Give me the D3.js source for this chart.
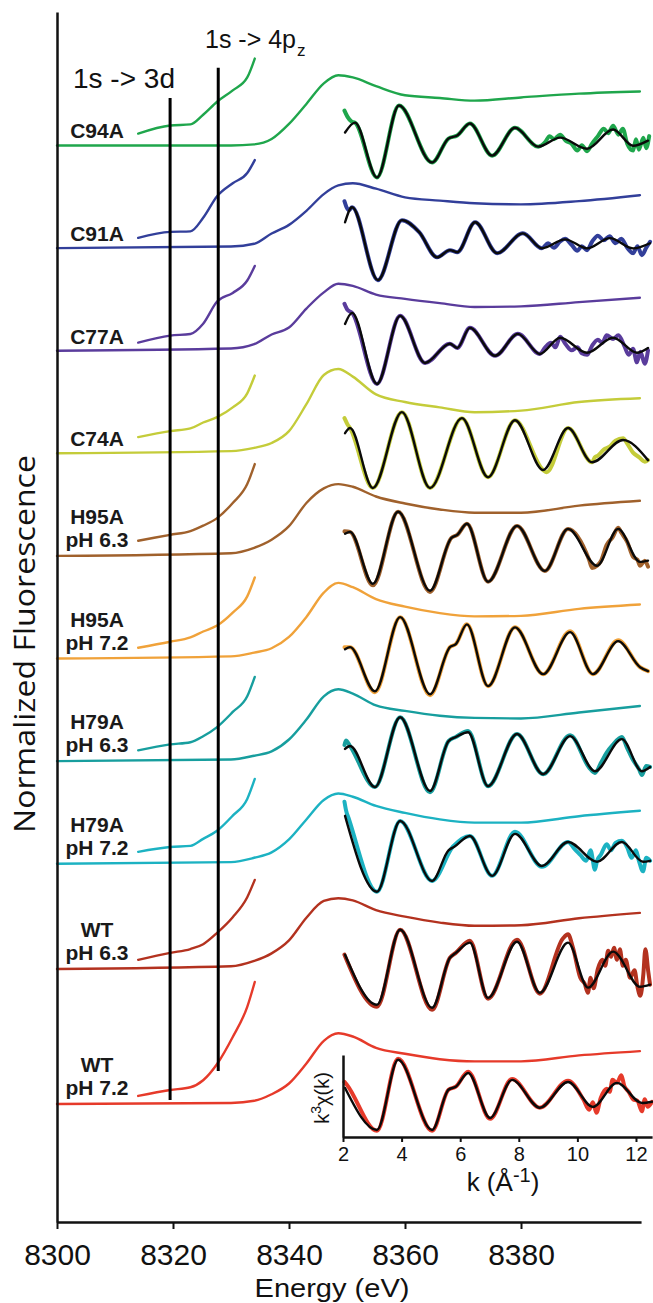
<!DOCTYPE html>
<html><head><meta charset="utf-8">
<script src="https://cdn.jsdelivr.net/npm/d3@7"></script>
<style>html,body{margin:0;padding:0;background:#fff;}svg{display:block;}</style>
</head><body>
<svg id="chart" width="653" height="1303"></svg>
<script>
// ---------------- data ----------------
const samples = ["C94A","C91A","C77A","C74A","H95A pH 6.3","H95A pH 7.2","H79A pH 6.3","H79A pH 7.2","WT pH 6.3","WT pH 7.2"];
const colors = ["#1fa64c","#323f9a","#5a3c9c","#c4cc3a","#a0612c","#f0a23a","#179e9e","#1cb2c2","#b3321f","#e63a2a"];

const energyTicks = [8300, 8320, 8340, 8360, 8380];
const kTicks = [2, 4, 6, 8, 10, 12];

// XANES (normalized fluorescence) on a common energy grid
const energyGrid = [8300, 8330, 8334, 8337, 8340, 8343, 8346, 8348.5, 8351, 8355, 8360, 8366, 8372, 8380, 8390, 8400.5];
const xanesC94A  = [0, 0,    0.02, 0.12, 0.40, 0.77, 1.15, 1.30, 1.26, 1.10, 0.93, 0.88, 0.83, 0.89, 0.96, 1.00];
const xanesC91A  = [0, 0.03, 0.08, 0.27, 0.43, 0.69, 1.00, 1.16, 1.20, 1.10, 0.94, 0.88, 0.83, 0.81, 0.87, 0.98];
const xanesC77A  = [0, 0.04, 0.12, 0.30, 0.43, 0.78, 1.08, 1.24, 1.20, 1.04, 0.96, 0.88, 0.81, 0.82, 0.90, 0.98];
const xanesC74A  = [0, 0.04, 0.10, 0.19, 0.41, 0.91, 1.45, 1.56, 1.42, 1.09, 0.95, 0.85, 0.76, 0.79, 0.95, 1.02];
const xanesH95A63 = [0, 0.05, 0.15, 0.30, 0.55, 0.98, 1.25, 1.33, 1.28, 1.10, 0.97, 0.86, 0.80, 0.80, 0.93, 1.02];
const xanesH95A72 = [0, 0.04, 0.11, 0.19, 0.40, 0.77, 1.22, 1.40, 1.32, 1.10, 0.96, 0.84, 0.78, 0.79, 0.92, 1.00];
const xanesH79A63 = [0, 0.03, 0.10, 0.18, 0.40, 0.77, 1.20, 1.33, 1.25, 1.03, 0.93, 0.84, 0.80, 0.79, 0.90, 1.02];
const xanesH79A72 = [0, 0.03, 0.11, 0.21, 0.45, 0.82, 1.18, 1.30, 1.24, 1.07, 0.94, 0.82, 0.76, 0.76, 0.88, 0.98];
const xanesWT63  = [0, 0.05, 0.15, 0.29, 0.53, 0.95, 1.26, 1.31, 1.27, 1.09, 0.97, 0.86, 0.80, 0.81, 0.94, 1.04];
const xanesWT72  = [0, 0.02, 0.06, 0.18, 0.38, 0.75, 1.17, 1.31, 1.25, 1.04, 0.93, 0.83, 0.79, 0.79, 0.90, 0.98];

// expanded pre-edge region
const preEdgeEnergy = [8314, 8319.5, 8323, 8325.2, 8327.6, 8330.3, 8332.8, 8334.1];
const preC94A  = [0.22, 0.37, 0.39, 0.57, 0.81, 1.02, 1.26, 1.61];
const preC91A  = [0.19, 0.30, 0.31, 0.56, 0.96, 1.20, 1.39, 1.63];
const preC77A  = [0.15, 0.28, 0.31, 0.50, 0.91, 1.07, 1.30, 1.57];
const preC74A  = [0.30, 0.41, 0.46, 0.57, 0.67, 0.85, 1.11, 1.44];
const preH95A63 = [0.28, 0.39, 0.46, 0.56, 0.70, 0.98, 1.33, 1.70];
const preH95A72 = [0.20, 0.31, 0.39, 0.50, 0.61, 0.85, 1.15, 1.50];
const preH79A63 = [0.20, 0.31, 0.35, 0.46, 0.63, 0.91, 1.20, 1.56];
const preH79A72 = [0.22, 0.31, 0.33, 0.46, 0.61, 0.89, 1.20, 1.57];
const preWT63  = [0.17, 0.30, 0.37, 0.46, 0.67, 0.96, 1.33, 1.65];
const preWT72  = [0.15, 0.26, 0.31, 0.44, 0.74, 1.24, 1.80, 2.26];

// EXAFS k^3 chi(k): fits [k, value]
const fitC94A = [[2.07,2.7],[2.41,6],[3.16,-12.3],[3.91,11.7],[5.04,-7.3],[5.6,0.7],[5.9,1.7],[6.33,5.7],[7.09,-5],[7.87,4.3],[8.66,-2],[9.41,1],[10.33,-2.7],[11.22,3.7],[11.9,-1.7],[12.41,0]];
const fitC91A = [[2.07,7],[2.31,12],[3.19,-12.3],[4.01,7.7],[4.6,3.7],[5.21,-4.7],[5.65,-2.3],[5.9,-3],[6.51,7],[7.26,-3.3],[8.14,3.3],[8.79,-1.7],[9.58,1.3],[10.33,-1.7],[11.11,1.7],[11.9,-1.7],[12.48,0]];
const fitC77A = [[2.07,7.3],[2.31,11],[3.16,-12.7],[3.95,10],[4.8,-5.7],[5.65,0.7],[5.9,-0.7],[6.33,6],[7.19,-3.3],[7.97,4],[8.72,-2.7],[9.41,2.7],[10.33,-2.3],[11.22,2.7],[12.03,-2.3],[12.41,-0.7]];
const fitC74A = [[2.07,6],[2.24,7.7],[3.02,-12.3],[4.01,13],[4.97,-12.3],[6.06,11],[6.95,-8.7],[7.87,10.3],[8.83,-6.3],[9.68,7.7],[10.5,-3.7],[11.56,3.7],[12.41,-3]];
const fitH95A63 = [[2.07,4.7],[2.24,5.3],[3.02,-12],[3.88,12],[4.97,-14.3],[5.7,3.3],[5.9,4.3],[6.23,8],[6.95,-11.3],[7.94,7.3],[8.89,-7.7],[9.68,6.3],[10.67,-6],[11.39,6.3],[12.14,-4.7],[12.41,-4.3]];
const fitH95A72 = [[2.07,2],[2.24,2.7],[3.09,-12],[3.95,12.7],[4.97,-13],[5.65,2.7],[5.85,3.7],[6.23,10.3],[6.95,-10.3],[7.87,9.3],[8.83,-6.3],[9.75,7.7],[10.53,-6.3],[11.39,4.7],[12.14,-4],[12.41,-5.3]];
const fitH79A63 = [[2.07,1.7],[2.24,2.7],[3.09,-11],[3.95,12.3],[4.97,-12.3],[5.6,4.3],[5.85,5.7],[6.27,7.3],[6.95,-10.7],[7.94,6.7],[8.83,-6.7],[9.75,6],[10.6,-5.7],[11.52,5],[12.2,-5.7],[12.48,-4.3]];
const fitH79A72 = [[2.07,12],[3.16,-13.3],[3.95,10.3],[5.04,-9.7],[5.6,0.5],[5.8,1.7],[6.33,5.3],[7.09,-8],[7.87,6],[8.79,-4.7],[9.68,3.3],[10.67,-3.3],[11.52,3.3],[12.24,-3.3],[12.48,-3]];
const fitWT63 = [[2.07,3.7],[3.16,-13],[3.95,12],[5.04,-14],[5.65,2.7],[5.85,4.3],[6.33,7.7],[6.95,-10.7],[7.94,8],[8.72,-9],[9.68,7.7],[10.36,-7.3],[11.22,4.7],[12.14,-7],[12.48,-6.3]];
const fitWT72 = [[2.07,2.3],[3.16,-11.7],[3.88,11.7],[5.04,-11.7],[5.6,1.7],[5.85,2.7],[6.27,7.3],[7.02,-7.7],[7.77,5],[8.72,-4.3],[9.68,4.3],[10.53,-4],[11.35,4],[12.2,-2.7],[12.55,-2.3]];

// EXAFS measured data [k, value]
const dataC94A = [[2.05,10],[2.15,8],[2.3,6.3],[2.41,6],[3.16,-12.3],[3.91,11.7],[5.04,-7.3],[5.6,0.7],[5.9,1.7],[6.33,5.7],[7.09,-5],[7.87,4.3],[8.66,-2],[8.9,-0.5],[9.05,1.5],[9.2,0.5],[9.41,2],[9.6,0],[9.8,-1],[10.0,-3.3],[10.15,-1.5],[10.33,-3.5],[10.5,-1],[10.7,1.5],[10.9,4],[11.05,2.5],[11.22,5],[11.4,2],[11.55,4],[11.7,-1],[11.9,-3.3],[12.0,0.5],[12.1,-3],[12.25,1],[12.35,-2.5],[12.45,1.5]];
const dataC91A = [[2.05,14],[2.12,12],[2.2,11],[2.31,12],[3.19,-12.3],[4.01,7.7],[4.6,3.7],[5.21,-4.7],[5.65,-2.3],[5.9,-3],[6.51,7],[7.26,-3.3],[8.14,3.3],[8.79,-1.7],[9.0,0],[9.2,-1.5],[9.4,0.5],[9.58,1.5],[9.8,-0.5],[10.0,-2.5],[10.15,-1],[10.33,-2.3],[10.5,0.5],[10.7,2.5],[10.9,1],[11.1,2.3],[11.3,0],[11.5,1.5],[11.7,-1.5],[11.9,-3.3],[12.05,-1],[12.2,-4],[12.35,-1.5],[12.48,0.5]];
const dataC77A = [[2.05,14],[2.15,12],[2.31,11],[3.16,-12.7],[3.95,10],[4.8,-5.7],[5.65,0.7],[5.9,-0.7],[6.33,6],[7.19,-3.3],[7.97,4],[8.72,-2.7],[8.9,-0.5],[9.1,1],[9.25,-0.5],[9.41,3],[9.6,0.5],[9.8,-1.5],[10.0,-0.5],[10.15,-2.5],[10.33,-3],[10.5,0],[10.7,2],[10.85,1],[11.0,3.5],[11.22,2.3],[11.4,3.5],[11.6,0],[11.75,-3],[11.9,-1],[12.03,-5.5],[12.15,-2],[12.3,-6],[12.41,-1.5]];
const dataC74A = [[2.05,11],[2.15,9],[2.24,7.7],[3.02,-12.3],[4.01,13],[4.97,-12.3],[6.06,11],[6.95,-8.7],[7.87,10.3],[8.83,-6.3],[8.95,-7],[9.68,7.7],[10.5,-3.7],[10.6,-2],[10.7,-1.5],[10.9,0.5],[11.1,1.5],[11.3,3.5],[11.56,4.3],[11.7,2.5],[11.9,-0.5],[12.1,-2],[12.3,-3.5],[12.41,-3]];
const dataH95A63 = [[2.05,5.5],[2.24,5.3],[3.02,-12.5],[3.88,12],[4.97,-14.7],[5.7,3.3],[5.9,4.3],[6.23,8],[6.95,-11.3],[7.94,7.3],[8.89,-7.7],[9.68,6.3],[10.4,-4],[10.5,-6.7],[10.67,-6],[10.8,-4.5],[11.0,1],[11.2,3.5],[11.39,6.7],[11.5,5],[11.7,2],[11.9,-3],[12.05,-4],[12.14,-6],[12.3,-4.3],[12.41,-6.3]];
const dataH95A72 = [[2.05,2.7],[2.24,2.7],[3.09,-12.3],[3.95,12.7],[4.97,-13.3],[5.65,2.7],[5.85,3.7],[6.23,10.3],[6.95,-10.3],[7.87,9.3],[8.83,-6.3],[9.75,8],[10.53,-6.3],[11.39,5],[12.14,-4],[12.41,-5.3]];
const dataH79A63 = [[2.05,3],[2.1,4.5],[2.24,2.7],[3.09,-11],[3.95,12.3],[4.97,-12.7],[5.6,4.3],[5.85,5.7],[6.27,7.7],[6.95,-10.7],[7.94,6.7],[8.83,-6.7],[9.75,6.3],[10.4,-4.5],[10.6,-6.3],[10.8,-3],[11.0,0.5],[11.2,3],[11.52,5.7],[11.7,2],[11.9,-2],[12.1,-5],[12.2,-7],[12.35,-4],[12.48,-4.3]];
const dataH79A72 = [[2.05,16.7],[2.1,14],[2.2,11],[3.16,-13.3],[3.95,10.3],[5.04,-9.7],[5.75,1.7],[6.33,5.3],[7.09,-8],[7.87,6.7],[8.79,-5],[9.68,3.3],[9.9,1],[10.1,-1],[10.3,-3],[10.45,0.5],[10.6,-6],[10.67,-3],[10.8,-1],[11.0,2.5],[11.15,0.5],[11.3,3],[11.52,3.7],[11.7,1.5],[11.85,-2],[12.0,0.5],[12.1,-3],[12.24,-6.5],[12.35,-2],[12.48,-3]];
const dataWT63 = [[2.05,3.7],[3.16,-13.7],[3.95,12],[5.04,-14.7],[5.65,2.7],[5.85,4.3],[6.33,8.3],[6.95,-11],[7.94,8.7],[8.72,-9.3],[9.5,9],[9.68,10.5],[9.85,6],[10.1,-4],[10.25,-6],[10.36,-9],[10.45,-4],[10.55,-7.5],[10.7,-1],[10.85,2],[10.95,0],[11.05,5],[11.15,3],[11.25,6],[11.35,2],[11.45,5.5],[11.55,0],[11.65,2],[11.8,-4],[11.95,-1.5],[12.05,-7],[12.15,-10],[12.25,-3],[12.32,5.5],[12.42,-2],[12.48,-6.3]];
const dataWT72 = [[2.05,4.3],[2.12,3.5],[3.16,-12],[3.88,12],[5.04,-12],[5.6,1.7],[5.85,2.7],[6.27,7.7],[7.02,-8],[7.77,5.3],[8.72,-4.3],[9.68,4.7],[10.2,-1.5],[10.4,-5],[10.53,-2.5],[10.65,-6],[10.8,-1],[11.0,2],[11.1,1],[11.2,5],[11.35,4],[11.5,6.5],[11.6,3],[11.75,1],[11.9,-1.5],[12.05,-2],[12.2,-5.5],[12.3,-1.5],[12.4,-4],[12.55,-2.3]];

const xanesSeries = [xanesC94A,xanesC91A,xanesC77A,xanesC74A,xanesH95A63,xanesH95A72,xanesH79A63,xanesH79A72,xanesWT63,xanesWT72];
const preSeries = [preC94A,preC91A,preC77A,preC74A,preH95A63,preH95A72,preH79A63,preH79A72,preWT63,preWT72];
const fitSeries = [fitC94A,fitC91A,fitC77A,fitC74A,fitH95A63,fitH95A72,fitH79A63,fitH79A72,fitWT63,fitWT72];
const dataSeries = [dataC94A,dataC91A,dataC77A,dataC74A,dataH95A63,dataH95A72,dataH79A63,dataH79A72,dataWT63,dataWT72];

// ---------------- layout ----------------
const stackOffset = [17.75, 15.85, 13.95, 12.05, 10.15, 8.25, 6.35, 4.45, 2.5, 0];
const exafsLift  = [0.09, 0.09, 0.09, 0.04, 0.15, 0.06, 0.13, 0.22, 0.06, 0.17];
const transitions = [
  {E: 8319.5, top: 18.63, bottom: 0.074},
  {E: 8327.8, top: 19.19, bottom: 0.61}
];

const svg = d3.select("#chart");
svg.append("rect").attr("width",653).attr("height",1303).attr("fill","#fff");

const x = d3.scaleLinear().domain([8300, 8400.7]).range([57, 641.06]);
const y = d3.scaleLinear().domain([-2.222, 20.222]).range([1224, 12]);
const kx = d3.scaleLinear().domain([2, 12.55]).range([343, 652.1]);

const curves = svg.append("g").attr("fill","none").attr("stroke-linejoin","round").attr("stroke-linecap","round");

samples.forEach((name, i) => {
  const off = stackOffset[i];
  const col = colors[i];
  const line = d3.line().x(d => x(d[0])).y(d => y(off + d[1])).curve(d3.curveMonotoneX);
  curves.append("path")
    .attr("d", line(energyGrid.map((e, j) => [e, xanesSeries[i][j]])))
    .attr("stroke", col).attr("stroke-width", 2.4);
  curves.append("path")
    .attr("d", line(preEdgeEnergy.map((e, j) => [e, preSeries[i][j]])))
    .attr("stroke", col).attr("stroke-width", 2.4);

  const yc = y(off + exafsLift[i]);
  const c = d3.scaleLinear().domain([-10, 10]).range([yc + 30, yc - 30]);
  const ex = d3.line().x(d => kx(d[0])).y(d => c(d[1])).curve(d3.curveMonotoneX);
  curves.append("path").attr("d", ex(dataSeries[i])).attr("stroke", col).attr("stroke-width", 4);
  curves.append("path").attr("d", ex(fitSeries[i])).attr("stroke", "#0a0a0a").attr("stroke-width", 2.4);

  // label
  const parts = name.split(" pH ");
  const lines = parts.length > 1 ? [parts[0], "pH " + parts[1]] : [name];
  const base = y(off);
  const lbl = svg.append("text").attr("text-anchor","middle")
    .attr("font-family","Liberation Sans, Arial, sans-serif").attr("font-weight","bold")
    .attr("font-size", 21).attr("fill","#1a1a1a");
  if (lines.length === 1) {
    lbl.append("tspan").attr("x", 97).attr("y", base - 7).text(lines[0]);
  } else {
    lbl.append("tspan").attr("x", 97).attr("y", base - 32).text(lines[0]);
    lbl.append("tspan").attr("x", 97).attr("y", base - 9).text(lines[1]);
  }
});

// transition lines
transitions.forEach(t => {
  svg.append("line").attr("x1", x(t.E)).attr("x2", x(t.E))
    .attr("y1", y(t.top)).attr("y2", y(t.bottom))
    .attr("stroke", "#000").attr("stroke-width", 3);
});

const f = "Liberation Sans, Arial, sans-serif";
svg.append("text").attr("x", 73).attr("y", 88).attr("font-family", f).attr("font-size", 28)
  .attr("fill","#111").text("1s -> 3d");
const t4 = svg.append("text").attr("x", 205).attr("y", 48).attr("font-family", f).attr("font-size", 25).attr("fill","#111");
t4.append("tspan").text("1s -> 4p");
t4.append("tspan").attr("dy", 8).attr("dx", 1).attr("font-size", 17).text("z");

// main axes
const axisY = 1222;
const xAxis = svg.append("g").attr("transform", `translate(0,${axisY})`)
  .call(d3.axisBottom(x).tickValues(energyTicks).tickSize(7).tickSizeOuter(0).tickPadding(15).tickFormat(d3.format("d")));
xAxis.select(".domain").attr("stroke","#111").attr("stroke-width",2.5);
xAxis.selectAll(".tick line").attr("stroke","#111").attr("stroke-width",2);
xAxis.selectAll(".tick text").attr("font-family", f).attr("font-size", 30).attr("fill","#111");

const yAxisScale = d3.scaleLinear().domain([0,1]).range([axisY, 12]);
const yAxis = svg.append("g").attr("transform","translate(57,0)")
  .call(d3.axisLeft(yAxisScale).tickValues([]).tickSizeOuter(0));
yAxis.select(".domain").attr("stroke","#111").attr("stroke-width",2.5);

svg.append("text").attr("x", 332).attr("y", 1297).attr("text-anchor","middle")
  .attr("font-family", f).attr("font-size", 26).attr("fill","#111")
  .attr("textLength", 155).attr("lengthAdjust","spacingAndGlyphs")
  .text("Energy (eV)");
svg.append("text").attr("transform","translate(35,644) rotate(-90)").attr("text-anchor","middle")
  .attr("font-family","Open Sans, sans-serif").attr("font-size", 29).attr("fill","#111")
  .attr("textLength", 378).attr("lengthAdjust","spacingAndGlyphs")
  .text("Normalized Fluorescence");

// inset EXAFS axes
const kAxis = svg.append("g").attr("transform","translate(0,1137)")
  .call(d3.axisBottom(kx).tickValues(kTicks).tickSize(5).tickSizeOuter(0).tickPadding(5));
kAxis.select(".domain").attr("stroke","#111").attr("stroke-width",2.5);
kAxis.selectAll(".tick line").attr("stroke","#111").attr("stroke-width",2);
kAxis.selectAll(".tick text").attr("font-family", f).attr("font-size", 20).attr("fill","#111");

const chiAxisScale = d3.scaleLinear().domain([0,1]).range([1137, 1055]);
const chiAxis = svg.append("g").attr("transform","translate(343,0)")
  .call(d3.axisLeft(chiAxisScale).tickValues([]).tickSizeOuter(0));
chiAxis.select(".domain").attr("stroke","#111").attr("stroke-width",2.5);

const kl = svg.append("text").attr("x", 503).attr("y", 1191).attr("text-anchor","middle")
  .attr("font-family", f).attr("font-size", 26).attr("fill","#111");
kl.append("tspan").text("k (\u00C5");
kl.append("tspan").attr("font-size", 20).attr("dy", -9).text("-1");
kl.append("tspan").attr("dy", 9).text(")");

const cl = svg.append("text").attr("transform","translate(329,1098) rotate(-90)").attr("text-anchor","middle")
  .attr("font-family", f).attr("font-size", 20).attr("fill","#111");
cl.append("tspan").text("k");
cl.append("tspan").attr("font-size", 14).attr("dy", -8).text("3");
cl.append("tspan").attr("dy", 8).text("\u03C7(k)");
</script>
</body></html>
